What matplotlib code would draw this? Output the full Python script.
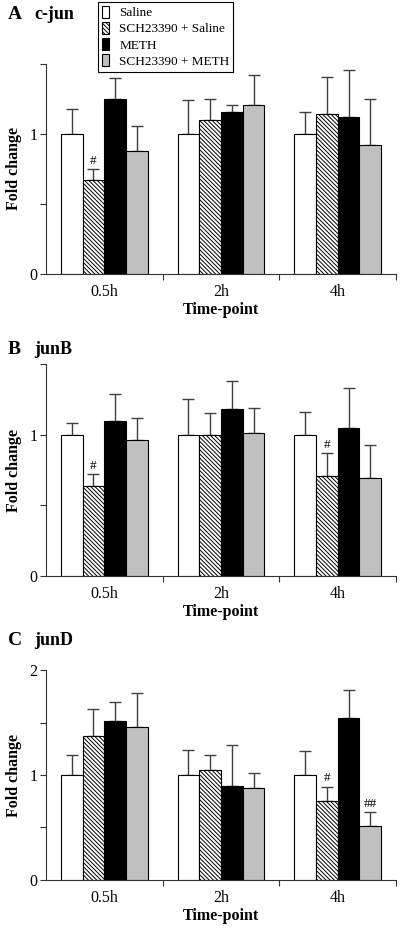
import numpy as np
import matplotlib
matplotlib.use('Agg')
import matplotlib.pyplot as plt

plt.rcParams['font.family'] = ['Liberation Serif', 'DejaVu Serif']
plt.rcParams['hatch.linewidth'] = 0.7

##data (mean fold change, upper SEM)
timepoints = ['0.5h', '2h', '4h']
groups = ['Saline', 'SCH23390 + Saline', 'METH', 'SCH23390 + METH']

# c-jun
cjun_mean = [[1.00, 1.00, 1.00], [0.67, 1.10, 1.14], [1.25, 1.16, 1.12], [0.88, 1.21, 0.92]]
cjun_sem = [[0.18, 0.24, 0.16], [0.08, 0.15, 0.27], [0.15, 0.05, 0.34], [0.18, 0.21, 0.33]]
# junB
junb_mean = [[1.00, 1.00, 1.00], [0.64, 1.00, 0.71], [1.10, 1.18, 1.05], [0.96, 1.01, 0.69]]
junb_sem = [[0.08, 0.25, 0.16], [0.08, 0.15, 0.16], [0.19, 0.20, 0.28], [0.16, 0.18, 0.24]]
# junD
jund_mean = [[1.00, 1.00, 1.00], [1.37, 1.05, 0.75], [1.51, 0.90, 1.54], [1.46, 0.88, 0.51]]
jund_sem = [[0.19, 0.24, 0.23], [0.26, 0.14, 0.14], [0.19, 0.39, 0.27], [0.32, 0.14, 0.14]]

# significance marks: (group index, timepoint index, text)
cjun_sig = [(1, 0, '#')]
junb_sig = [(1, 0, '#'), (1, 2, '#')]
jund_sig = [(1, 2, '#'), (3, 2, '##')]

panels = [
    ('A', 'c-jun', cjun_mean, cjun_sem, cjun_sig, 1.5, [0, 1]),
    ('B', 'junB', junb_mean, junb_sem, junb_sig, 1.5, [0, 1]),
    ('C', 'junD', jund_mean, jund_sem, jund_sig, 2.0, [0, 1, 2]),
]

# bar styles for the 4 groups
faces = ['white', 'white', 'black', '#c0c0c0']
hatches = [None, '\\' * 8, None, None]

fig = plt.figure(figsize=(4, 9.31), dpi=100)
ax_rects = [[0.115, 0.7057, 0.875, 0.2256],
            [0.115, 0.3813, 0.875, 0.2277],
            [0.115, 0.0548, 0.875, 0.2255]]
title_y = [912, 577, 286]  # baseline in pixels from bottom

w = 0.186
x = np.arange(len(timepoints))
for p, (letter, gene, mean, sem, sig, ytop, ylab) in enumerate(panels):
    ax = fig.add_axes(ax_rects[p])
    handles = []
    for g in range(4):
        xs = x + (g - 1.5)*w
        b = ax.bar(xs, mean[g], w, color=faces[g], edgecolor='black',
                   linewidth=0.8, hatch=hatches[g], zorder=2)
        ax.errorbar(xs, mean[g], yerr=[np.zeros(3), sem[g]], fmt='none',
                    ecolor='#404040', elinewidth=1.0, capsize=4.3, capthick=1.0, zorder=1)
        handles.append(b)
    for g, t, s in sig:
        xs = x[t] + (g - 1.5)*w
        ax.annotate(s, (xs, mean[g][t] + sem[g][t]), xytext=(0, 1.5),
                    textcoords='offset points', ha='center', va='bottom', fontsize=9.5)

    ax.set_xlim(-0.5, 2.5)
    ax.set_ylim(0, ytop)
    ax.spines['top'].set_visible(False)
    ax.spines['right'].set_visible(False)
    ax.spines['left'].set_color('#333333')
    ax.spines['bottom'].set_color('#333333')
    yt = np.arange(0, ytop + 0.01, 0.5)
    ax.set_yticks(yt)
    ax.set_yticklabels([str(int(v)) if v in ylab else '' for v in yt])
    ax.tick_params(axis='y', direction='out', length=4, width=0.8, color='#333333',
                   labelsize=11.5, pad=2)
    ax.set_xticks(x)
    ax.set_xticklabels(timepoints)
    ax.tick_params(axis='x', which='major', length=0, labelsize=11.5, pad=7)
    ax.set_xticks([0.5, 1.5, 2.5], minor=True)
    ax.tick_params(axis='x', which='minor', direction='out', length=4, width=0.8, color='#333333')
    ax.set_ylabel('Fold change', fontsize=11.5, fontweight='bold')
    ax.yaxis.set_label_coords(-0.069, 0.5)
    ax.set_xlabel('Time-point', fontsize=11.5, fontweight='bold')
    ax.xaxis.set_label_coords(0.5, -0.133)

    fig.text(8/400, title_y[p]/931, letter, fontsize=14, fontweight='bold', va='baseline')
    fig.text(34/400, title_y[p]/931, gene, fontsize=13, fontweight='bold', va='baseline')

    if p == 0:
        leg = fig.legend(handles, groups, loc='upper left', bbox_to_anchor=(98/400, 1 - 2/931),
                         fontsize=9.5, handlelength=0.5, handleheight=1.0, handletextpad=0.8,
                         labelspacing=0.2, borderpad=0.3, fancybox=False, framealpha=1,
                         edgecolor='black', borderaxespad=0)
        leg.get_frame().set_linewidth(0.8)

plt.savefig('out.png', dpi=100)
